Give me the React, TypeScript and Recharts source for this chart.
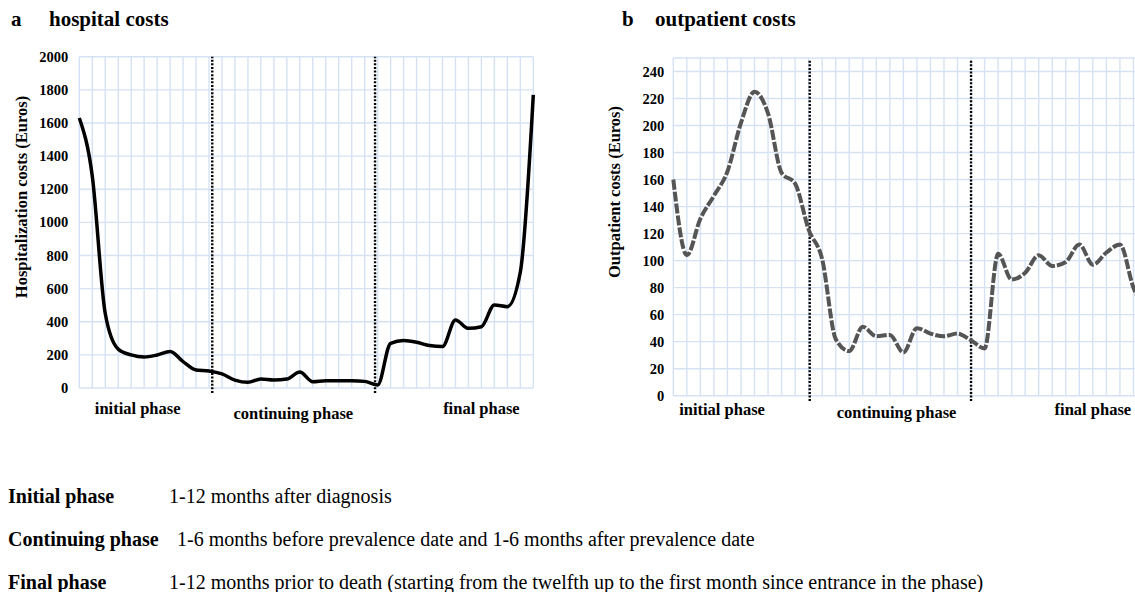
import React from "react";
import { LineChart, Line, XAxis, YAxis, CartesianGrid, ReferenceLine } from "recharts";

const serif = "'Liberation Serif', 'Times New Roman', serif";
const gridColor = "#d5e2f4";

// monthly costs, 12 months per phase (initial, continuing, final)
const hospitalCosts = [
  1630, 1280, 450, 235, 200, 187, 199, 220, 159, 109, 103, 85,
  48, 34, 54, 48, 54, 97, 38, 44, 44, 44, 40, 18,
  270, 286, 276, 256, 250, 411, 360, 370, 501, 491, 700, 1770,
];
const outpatientCosts = [
  160, 104, 131, 148, 166, 202, 225, 209, 165, 157, 123, 101,
  42, 33, 51, 44, 45, 32, 50, 46, 44, 46, 41, 35,
  105, 86, 91, 104, 96, 99, 112, 97, 106, 112, 80, 62,
];

const hospitalTicks = [0, 200, 400, 600, 800, 1000, 1200, 1400, 1600, 1800, 2000];
const outpatientTicks = [0, 20, 40, 60, 80, 100, 120, 140, 160, 180, 200, 220, 240];
const phaseNames = ["initial phase", "continuing phase", "final phase"];

const phaseNotes = [
  ["Initial phase", "1-12 months after diagnosis"],
  ["Continuing phase", "1-6 months before prevalence date and 1-6 months after prevalence date"],
  [
    "Final phase",
    "1-12 months prior to death (starting from the twelfth up to the first month since entrance in the phase)",
  ],
];

const hospitalData = hospitalCosts.map((v, i) => ({ month: i, value: v }));
const outpatientData = outpatientCosts.map((v, i) => ({ month: i, value: v }));
const monthTicks = hospitalCosts.map((_, i) => i);

function PhaseTick(props: any) {
  const { x, y, index, dys } = props;
  return (
    <text
      x={x}
      y={y + dys[index]}
      textAnchor="middle"
      dominantBaseline="central"
      fontFamily={serif}
      fontWeight="bold"
      fontSize={16.5}
      fill="#000"
    >
      {phaseNames[index]}
    </text>
  );
}

type ChartProps = {
  data: { month: number; value: number }[];
  yTicks: number[];
  yMax: number;
  yAxisWidth: number;
  tickMargin: number;
  margin: { top: number; right: number; bottom: number; left: number };
  phaseAt: number[];
  phaseDy: number[];
  boundaries: number[];
  lineBottom: number;
  lineTop: number;
  stroke: string;
  strokeWidth: number;
  dash?: string;
};

function CostChart(p: ChartProps) {
  return (
    <LineChart width={560} height={440} data={p.data} margin={p.margin}>
      <CartesianGrid stroke={gridColor} strokeWidth={1.4} />
      <XAxis
        dataKey="month"
        type="number"
        domain={[0, 35]}
        ticks={monthTicks}
        interval={0}
        height={1}
        tick={() => <g />}
        tickLine={false}
        axisLine={false}
      />
      <XAxis
        xAxisId="phase"
        dataKey="month"
        type="number"
        domain={[0, 35]}
        ticks={p.phaseAt}
        interval={0}
        height={29}
        tickLine={false}
        axisLine={false}
        tick={(t: any) => <PhaseTick {...t} dys={p.phaseDy} />}
      />
      <YAxis
        type="number"
        domain={[0, p.yMax]}
        ticks={p.yTicks}
        interval={0}
        width={p.yAxisWidth}
        axisLine={false}
        tickLine={false}
        tickMargin={p.tickMargin}
        tick={{ fontSize: 14.5, fontWeight: "bold", fill: "#000", fontFamily: serif }}
      />
      {p.boundaries.map((b) => (
        <ReferenceLine
          key={b}
          segment={[
            { x: b, y: p.lineBottom },
            { x: b, y: p.lineTop },
          ]}
          ifOverflow="visible"
          stroke="#000"
          strokeWidth={2.4}
          strokeDasharray="2 1.6"
        />
      ))}
      <Line
        type="monotone"
        dataKey="value"
        stroke={p.stroke}
        strokeWidth={p.strokeWidth}
        strokeDasharray={p.dash}
        dot={false}
        activeDot={false}
        isAnimationActive={false}
      />
    </LineChart>
  );
}

const abs = (left: number, top: number, extra: React.CSSProperties = {}): React.CSSProperties => ({
  position: "absolute",
  left,
  top,
  whiteSpace: "nowrap",
  lineHeight: 1,
  ...extra,
});

export default function App() {
  return (
    <div
      style={{
        position: "fixed",
        left: 0,
        top: 0,
        width: 1135,
        height: 592,
        overflow: "hidden",
        background: "#fff",
        fontFamily: serif,
        color: "#000",
      }}
    >
      <div style={abs(11, 9, { fontSize: 21, fontWeight: "bold" })}>a</div>
      <div style={abs(49, 9, { fontSize: 21, fontWeight: "bold" })}>hospital costs</div>
      <div style={abs(622, 9, { fontSize: 21, fontWeight: "bold" })}>b</div>
      <div style={abs(655, 9, { fontSize: 21, fontWeight: "bold" })}>outpatient costs</div>

      <div style={abs(0, 0)}>
        <CostChart
          data={hospitalData}
          yTicks={hospitalTicks}
          yMax={2000}
          yAxisWidth={79.3}
          tickMargin={5}
          margin={{ top: 56.7, right: 26.7, bottom: 22, left: 0 }}
          phaseAt={[4.5, 16.5, 31]}
          phaseDy={[11, 16, 11]}
          boundaries={[10.25, 22.8]}
          lineBottom={-30}
          lineTop={2000}
          stroke="#000"
          strokeWidth={3.5}
        />
      </div>
      <div style={abs(600, 0)}>
        <CostChart
          data={outpatientData}
          yTicks={outpatientTicks}
          yMax={250}
          yAxisWidth={73.3}
          tickMargin={3}
          margin={{ top: 58, right: 13, bottom: 14.3, left: 0 }}
          phaseAt={[3.6, 16.5, 31]}
          phaseDy={[5, 8, 5]}
          boundaries={[10.08, 22.0]}
          lineBottom={-4}
          lineTop={248}
          stroke="#555"
          strokeWidth={4}
          dash="10 2"
        />
      </div>

      <div style={abs(22, 197, { fontSize: 16.5, fontWeight: "bold", transform: "translate(-50%, -50%) rotate(-90deg)" })}>
        Hospitalization costs (Euros)
      </div>
      <div style={abs(615, 191.5, { fontSize: 16.5, fontWeight: "bold", transform: "translate(-50%, -50%) rotate(-90deg)" })}>
        Outpatient costs (Euros)
      </div>

      {phaseNotes.map(([label, note], i) => (
        <React.Fragment key={label}>
          <div style={abs(8, 486 + i * 43, { fontSize: 20, fontWeight: "bold" })}>{label}</div>
          <div style={abs(i === 1 ? 177 : 169, 486 + i * 43, { fontSize: 20 })}>{note}</div>
        </React.Fragment>
      ))}
    </div>
  );
}
